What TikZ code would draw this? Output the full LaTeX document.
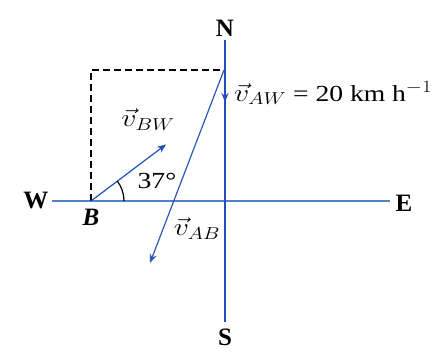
\documentclass[tikz,border=0pt]{standalone}
\usepackage{fontspec}
\setmainfont{Liberation Serif}
\usetikzlibrary{positioning,calc}
\usetikzlibrary{arrows.meta}
\usetikzlibrary{decorations.markings}
\definecolor{axisblue}{RGB}{30,80,190}
\definecolor{paleblue}{RGB}{80,130,205}
\newcommand{\widetext}[1]{\scalebox{1.2}[1]{#1}}

\begin{document}
\begin{tikzpicture}[x=1pt,y=1pt,
         axis/.style = {axisblue, line width=1.3pt},
         eastwest/.style = {paleblue, line width=1.2pt},
         velocity/.style = {axisblue, line width=1.2pt,
         -{Stealth[length=9pt,width=7pt]}},
         guide/.style = {black, line width=1.5pt, dash pattern=on 7pt off 4pt},
         midarrow/.style = {postaction={decorate}, decoration={markings,
         mark=at position #1 with {\arrow{Stealth[length=9pt,width=7pt]}}}},
         compass/.style = {font=\fontsize{25}{28}\selectfont\bfseries},
         veclabel/.style = {font=\fontsize{23}{26}\selectfont, inner sep=1pt}
]
         \useasboundingbox (0,0) rectangle (437,356);

         % compass lines
         \coordinate (o) at (225,155);
         \coordinate (n) at (225,316);
         \coordinate (s) at (225,34);
         \coordinate (w) at (52,155);
         \coordinate (e) at (390,155);

         \node[compass, above=0pt of n]   (nlabel) {N};
         \node[compass, below=6pt of s, inner sep=1pt]  (slabel) {S};
         \node[compass, left=0pt of w]    (wlabel) {W};
         \node[compass, right=2pt of e, yshift=-2pt] (elabel) {E};

         \draw[eastwest] (w) -- (e);
         \draw[axis, midarrow=0.22] (n) -- (s);

         % boat B and corner A
         \coordinate (b) at (91,155);
         \coordinate (a) at (224,286);
         \coordinate (corner) at (91,286);
         \node[compass, below=5pt of b] (blabel) {\itshape B};

         \draw[guide] (b) -- (corner) -- (a);

         % velocity vectors
         \coordinate (bwtip) at ($(b)+(37:94)$);
         \coordinate (abtip) at (150,93);
         \draw[velocity] (b) -- (bwtip);
         \draw[velocity, axisblue!85!gray] (a) -- (abtip);

         % angle at B
         \draw[black, line width=1.2pt] ($(b)+(33,0)$) arc[start angle=0,
         end angle=37, radius=33];
         \node[veclabel] (angle) at ($(b)+(66,20)$) {\widetext{37°}};

         % labels
         \node[veclabel] (vbw) at ($(bwtip)+(-18,25)$)
         {\widetext{$\vec{v}_{BW}$}};
         \node[veclabel] (vab) at ($(o)+(-28,-28)$)
         {\widetext{$\vec{v}_{AB}$}};
         \node[veclabel, anchor=west] (vaw) at (233,263)
         {\widetext{$\vec{v}_{AW}$ = 20 km h$^{-1}$}};

\end{tikzpicture}
\end{document}
